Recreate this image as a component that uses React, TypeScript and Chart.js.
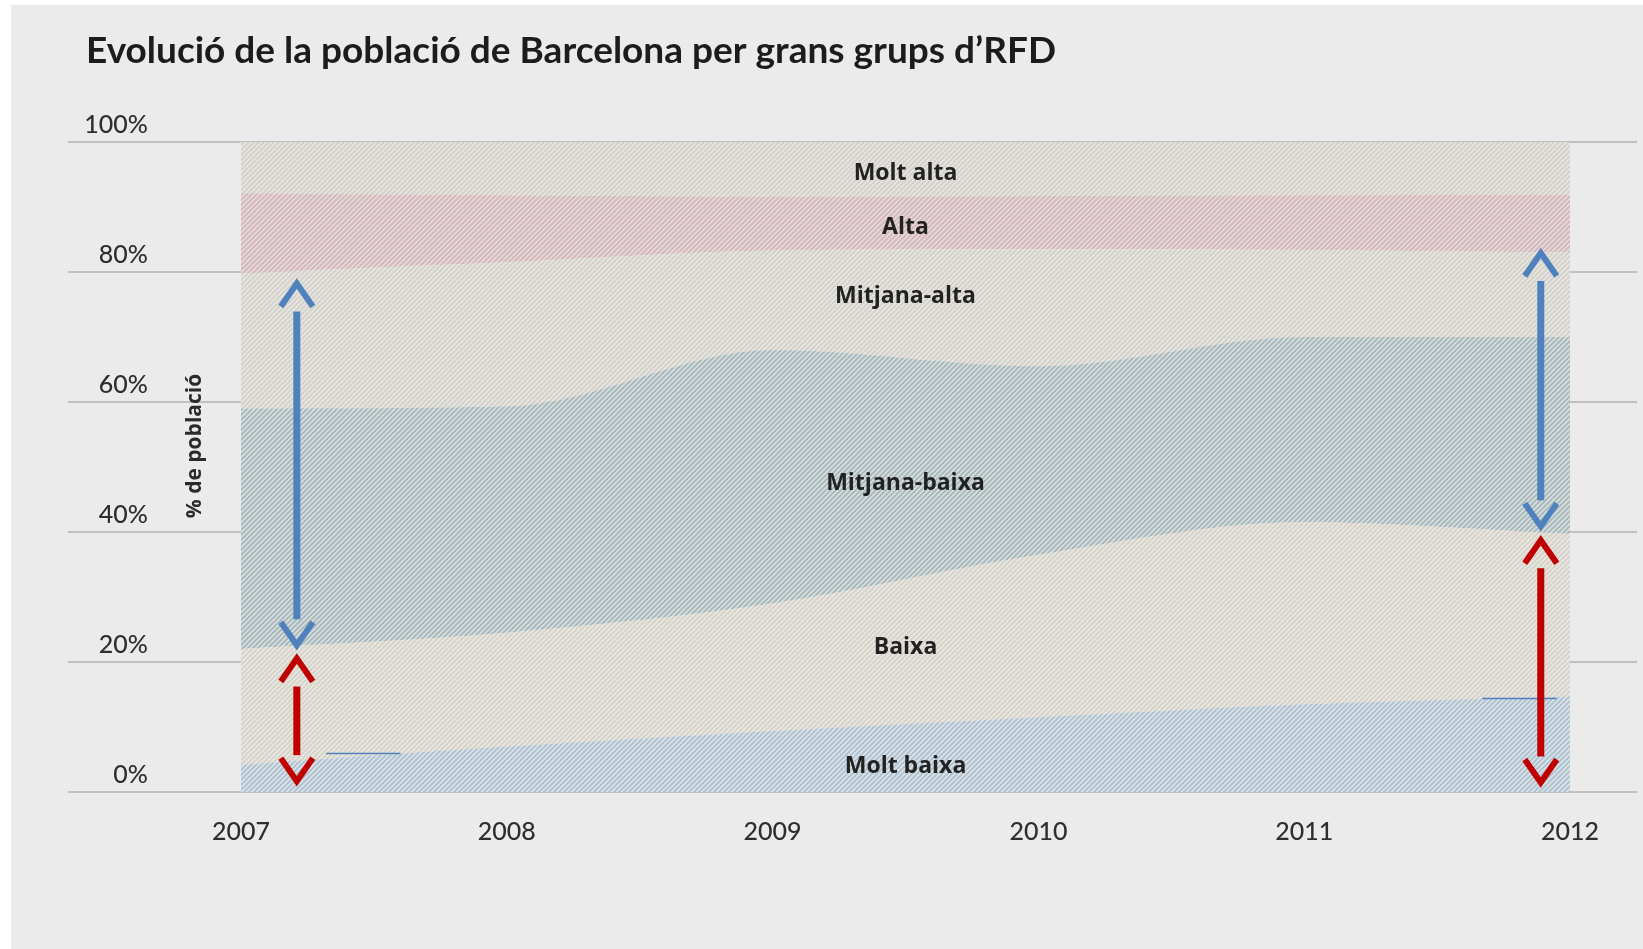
import React, { useEffect, useRef } from 'react';
import { Chart, registerables } from 'chart.js';

Chart.register(...registerables);

// ---------- data ----------
const years = [2007, 2008, 2009, 2010, 2011, 2012];
const groupNames = ['Molt baixa', 'Baixa', 'Mitjana-baixa', 'Mitjana-alta', 'Alta', 'Molt alta'];
const moltBaixa = [4.2, 7.0, 9.4, 11.5, 13.5, 14.7];
const baixa = [17.8, 17.5, 19.6, 25.0, 28.0, 25.0];
const mitjanaBaixa = [37.0, 34.8, 39.0, 29.0, 28.5, 30.3];
const mitjanaAlta = [20.8, 22.2, 15.3, 18.0, 13.4, 13.0];
const alta = [12.3, 10.3, 8.3, 8.2, 8.4, 8.9];
const moltAlta = [7.9, 8.2, 8.4, 8.3, 8.2, 8.1];
const yTickStep = 20;
const labelLevels = [4.0, 22.2, 47.5, 76.2, 86.9, 95.2]; // % level of each band label
const labelYear = 2009.5;
const chartTitle = 'Evolució de la població de Barcelona per grans grups d’RFD';
const yTitle = '% de població';
// arrows: [year, tip %, tip %]
const blueArrows = [
  [2007.21, 79.0, 21.8],
  [2011.89, 83.7, 40.1],
];
const redArrows = [
  [2007.21, 21.3, 0.9],
  [2011.89, 39.5, 0.7],
];
// short blue marks: [year from, year to, %]
const blueMarks = [
  [2007.32, 2007.6, 5.95],
  [2011.67, 2011.95, 14.5],
];

const series = [moltBaixa, baixa, mitjanaBaixa, mitjanaAlta, alta, moltAlta];
const hatchColors = [
  ['#d9e2e8', '#adbfcc'],
  ['#e8e6df', '#d4d1c8'],
  ['#d6dddd', '#a5b5b9'],
  ['#e7e5e0', '#d2cfc9'],
  ['#e6d8d8', '#d2b6b9'],
  ['#e6e4df', '#d2cfc9'],
];

const BLUE = '#4f81bd';
const RED = '#c00000';
const GRID = '#c0c0c0';
const TICK_COLOR = '#2e2e2e';

function makeHatch(ctx: CanvasRenderingContext2D, bg: string, line: string) {
  const s = 5;
  const c = document.createElement('canvas');
  c.width = s;
  c.height = s;
  const g = c.getContext('2d')!;
  g.fillStyle = bg;
  g.fillRect(0, 0, s, s);
  g.strokeStyle = line;
  g.lineWidth = 1.6;
  g.beginPath();
  g.moveTo(0, s);
  g.lineTo(s, 0);
  g.moveTo(-1, 1);
  g.lineTo(1, -1);
  g.moveTo(s - 1, s + 1);
  g.lineTo(s + 1, s - 1);
  g.stroke();
  return ctx.createPattern(c, 'repeat');
}

function drawArrow(ctx: CanvasRenderingContext2D, x: number, yTop: number, yBot: number, color: string) {
  ctx.save();
  ctx.strokeStyle = color;
  ctx.fillStyle = color;
  ctx.lineWidth = 6;
  ctx.lineJoin = 'miter';
  ctx.lineCap = 'butt';
  // top chevron
  ctx.beginPath();
  ctx.moveTo(x - 16, yTop + 28);
  ctx.lineTo(x, yTop + 5);
  ctx.lineTo(x + 16, yTop + 28);
  ctx.stroke();
  // bottom chevron
  ctx.beginPath();
  ctx.moveTo(x - 16, yBot - 28);
  ctx.lineTo(x, yBot - 5);
  ctx.lineTo(x + 16, yBot - 28);
  ctx.stroke();
  // shaft
  const s0 = yTop + 33;
  const s1 = yBot - 31;
  if (s1 > s0) ctx.fillRect(x - 3.5, s0, 7, s1 - s0);
  ctx.restore();
}

const overlayPlugin = {
  id: 'overlay',
  afterDatasetsDraw(chart: any) {
    const { ctx, scales, chartArea } = chart;
    const xs = scales.x;
    const ys = scales.y;
    ctx.save();
    // band labels
    ctx.font = "bold 23px 'Open Sans'";
    ctx.fillStyle = '#222222';
    ctx.textAlign = 'center';
    ctx.textBaseline = 'middle';
    const cx = xs.getPixelForValue(labelYear);
    groupNames.forEach((n, i) => {
      ctx.fillText(n, cx, ys.getPixelForValue(labelLevels[i]));
    });
    // blue marks
    ctx.strokeStyle = BLUE;
    ctx.lineWidth = 1.6;
    blueMarks.forEach(([a, b, v]) => {
      const y = Math.round(ys.getPixelForValue(v)) + 0.5;
      ctx.beginPath();
      ctx.moveTo(xs.getPixelForValue(a), y);
      ctx.lineTo(xs.getPixelForValue(b), y);
      ctx.stroke();
    });
    ctx.restore();
    // arrows
    blueArrows.forEach(([yr, a, b]) =>
      drawArrow(ctx, xs.getPixelForValue(yr), ys.getPixelForValue(a), ys.getPixelForValue(b), BLUE)
    );
    redArrows.forEach(([yr, a, b]) =>
      drawArrow(ctx, xs.getPixelForValue(yr), ys.getPixelForValue(a), ys.getPixelForValue(b), RED)
    );
    // axis title
    ctx.save();
    ctx.translate(chartArea.left - 46, (chartArea.top + chartArea.bottom) / 2 - 21);
    ctx.rotate(-Math.PI / 2);
    ctx.font = "bold 21px 'Open Sans'";
    ctx.fillStyle = '#2a2a2a';
    ctx.textAlign = 'center';
    ctx.textBaseline = 'middle';
    ctx.fillText(yTitle, 0, 0);
    ctx.restore();
    // chart title
    ctx.save();
    ctx.font = "bold 37px Lato";
    ctx.fillStyle = '#1c1c1c';
    ctx.textAlign = 'left';
    ctx.textBaseline = 'middle';
    ctx.fillText(chartTitle, 75, 46);
    ctx.restore();
  },
};

export default function App() {
  const canvasRef = useRef<HTMLCanvasElement | null>(null);

  useEffect(() => {
    const canvas = canvasRef.current;
    if (!canvas) return;
    const ctx = canvas.getContext('2d')!;
    const patterns = hatchColors.map(([bg, ln]) => makeHatch(ctx, bg, ln));

    const chart = new Chart(canvas, {
      type: 'line',
      data: {
        datasets: series.map((d, i) => ({
          label: groupNames[i],
          data: d.map((v, j) => ({ x: years[j], y: v })),
          backgroundColor: patterns[i] as any,
          borderColor: 'transparent',
          borderWidth: 0,
          pointRadius: 0,
          pointHoverRadius: 0,
          fill: i === 0 ? 'origin' : '-1',
          cubicInterpolationMode: 'monotone' as const,
          yAxisID: 'y',
        })),
      },
      options: {
        responsive: true,
        maintainAspectRatio: false,
        animation: false,
        events: [],
        layout: { padding: { left: 57, right: 6, top: 137, bottom: 97 } },
        plugins: {
          legend: { display: false },
          tooltip: { enabled: false },
          title: { display: false },
        },
        scales: {
          x: {
            type: 'linear',
            min: years[0],
            max: years[years.length - 1],
            grid: { display: false, drawTicks: false },
            border: { display: false },
            ticks: {
              stepSize: 1,
              padding: 25,
              color: TICK_COLOR,
              font: { family: 'Lato', size: 25, weight: '500' },
              callback: (v: any) => String(v),
            },
            afterFit: (s: any) => {
              s.height = 60;
            },
          },
          y: {
            type: 'linear',
            stacked: true,
            position: 'left',
            min: 0,
            max: 100,
            grid: { color: GRID, lineWidth: 2, tickLength: 173, drawOnChartArea: true, drawTicks: true },
            border: { display: false },
            ticks: {
              stepSize: yTickStep,
              padding: -80,
              labelOffset: -17,
              color: TICK_COLOR,
              font: { family: 'Lato', size: 25, weight: '500' },
              callback: (v: any) => v + '%',
            },
            afterFit: (s: any) => {
              s.width = 173;
            },
          },
          yR: {
            type: 'linear',
            position: 'right',
            min: 0,
            max: 100,
            grid: { color: GRID, lineWidth: 2, tickLength: 67, drawOnChartArea: false, drawTicks: true },
            border: { display: false },
            ticks: { display: false, stepSize: yTickStep },
            afterFit: (s: any) => {
              s.width = 67;
            },
          },
        },
      },
      plugins: [overlayPlugin],
    });
    return () => chart.destroy();
  }, []);

  return (
    <div
      style={{
        position: 'absolute',
        left: 11,
        top: 5,
        width: 1632,
        height: 944,
        background: '#ebebeb',
      }}
    >
      <canvas ref={canvasRef} />
    </div>
  );
}
